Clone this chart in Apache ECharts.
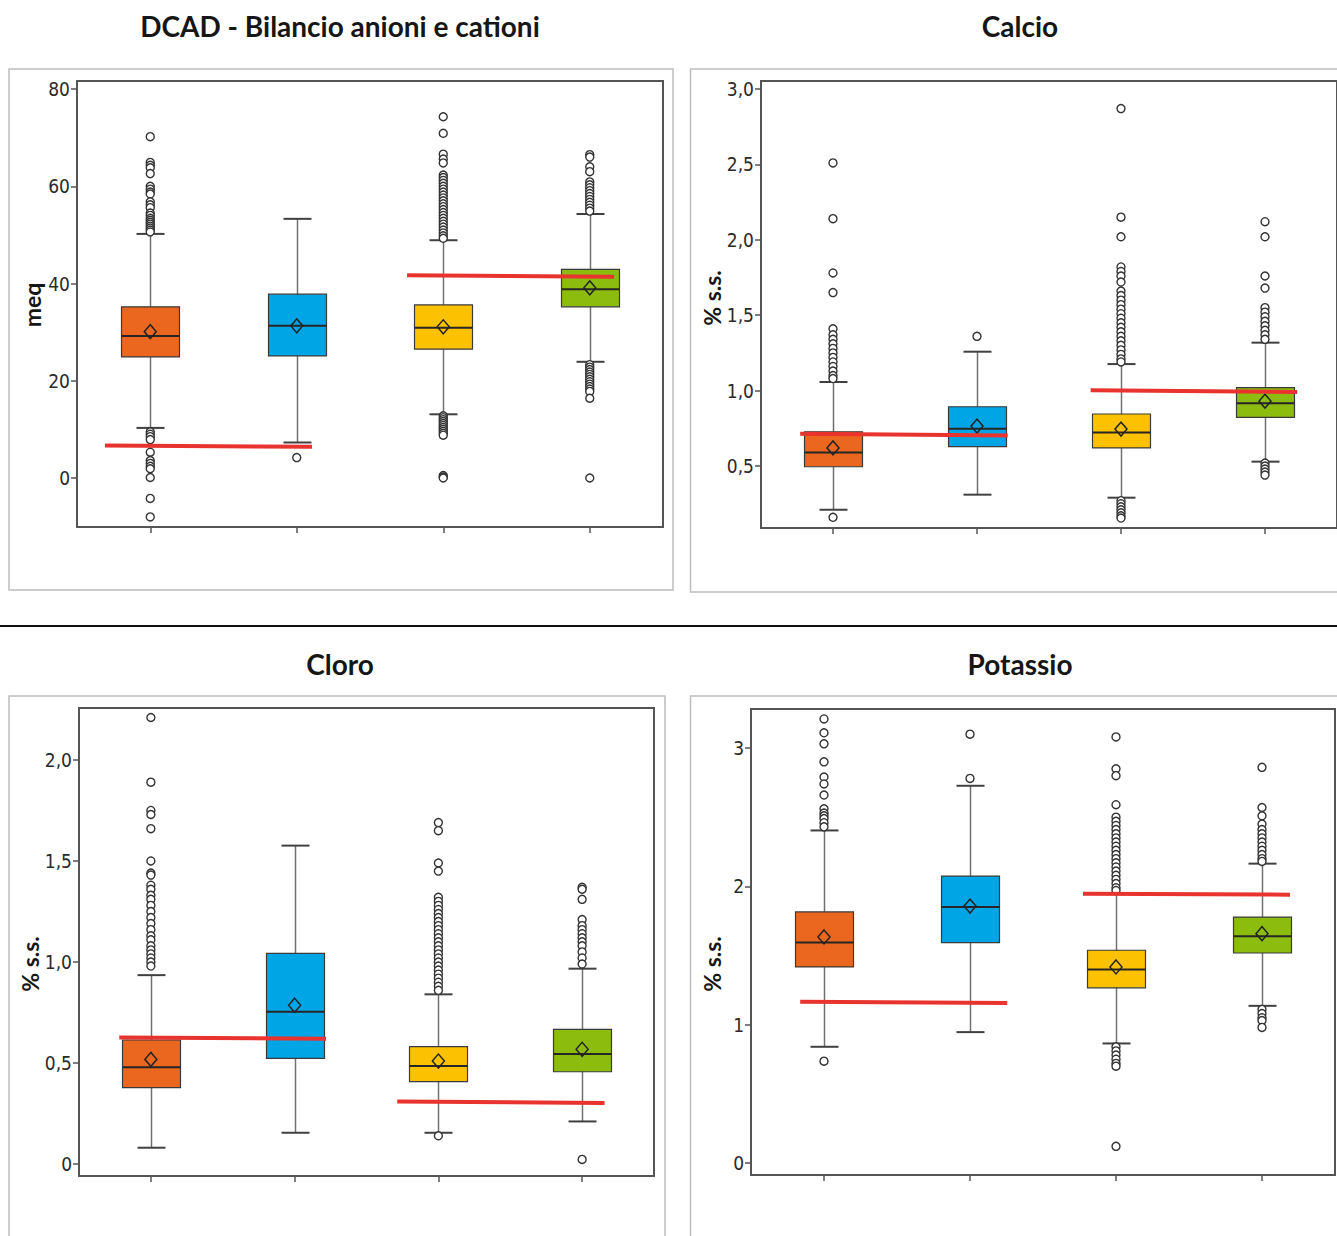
<!DOCTYPE html>
<html><head><meta charset="utf-8">
<script src="https://cdn.jsdelivr.net/npm/echarts@6/dist/echarts.min.js"></script>
<style>html,body{margin:0;padding:0;background:#fff}#c{width:1337px;height:1236px}</style>
</head><body><div id="c"></div>
<script>
// ---------- DATA ----------
const categories = ['Gruppo 1', 'Gruppo 2', 'Gruppo 3', 'Gruppo 4'];
const boxColors = ['#eb661e', '#00a5e6', '#fcc100', '#8cbd0e'];
const panelTitles = ['DCAD - Bilancio anioni e cationi', 'Calcio', 'Cloro', 'Potassio'];
const axisNames = ['meq', '% s.s.', '% s.s.', '% s.s.'];

// box rows: [lower whisker, Q1, median, Q3, upper whisker]
const dcadBox = [
  [10.3, 24.9, 29.2, 35.2, 50.2],
  [7.3, 25.1, 31.3, 37.8, 53.3],
  [13.1, 26.5, 30.9, 35.6, 48.9],
  [23.9, 35.2, 38.8, 42.9, 54.3]
];
const dcadMean = [30.1, 31.3, 31.1, 39.1];
const dcadOut = [
  [70.2, 64.9, 64.3, 63.8, 62.6, 60.0, 59.4, 58.8, 58.4, 56.8, 56.2, 55.6, 54.5, 54.0, 53.4, 53.0, 52.6, 52.2, 51.8, 51.4, 51.0, 50.6, 9.5, 9.0, 8.5, 7.9, 5.3, 3.6, 3.0, 2.4, 1.9, 0.1, -4.2, -8.0],
  [4.2],
  [74.3, 70.9, 66.6, 65.6, 64.8, 62.3, 61.8, 61.2, 60.6, 60.0, 59.4, 58.8, 58.2, 57.6, 57.0, 56.4, 55.8, 55.2, 54.6, 54.0, 53.4, 52.8, 52.2, 51.6, 51.0, 50.4, 49.8, 49.3, 12.8, 12.4, 12.0, 11.6, 11.2, 10.8, 10.4, 10.0, 9.6, 9.2, 8.8, 0.5, 0.2, 0.0],
  [66.5, 66.0, 64.0, 63.0, 60.9, 60.3, 59.7, 59.1, 58.5, 57.9, 57.3, 56.7, 56.1, 55.5, 54.9, 23.3, 22.8, 22.3, 21.8, 21.3, 20.8, 20.3, 19.8, 19.3, 18.8, 18.3, 17.8, 16.4, 0.0]
];
const dcadRef = [[[0.191, 6.7], [1.604, 6.4]], [[2.253, 41.7], [3.666, 41.4]]];
const dcadTicks = [0, 20, 40, 60, 80];
const dcadTickLabels = ['0', '20', '40', '60', '80'];

const calcioBox = [
  [0.21, 0.495, 0.59, 0.727, 1.057],
  [0.31, 0.628, 0.747, 0.893, 1.258],
  [0.29, 0.62, 0.723, 0.845, 1.176],
  [0.529, 0.823, 0.916, 1.02, 1.318]
];
const calcioMean = [0.62, 0.765, 0.745, 0.93];
const calcioOut = [
  [2.51, 2.14, 1.78, 1.65, 1.41, 1.37, 1.34, 1.31, 1.28, 1.25, 1.22, 1.19, 1.16, 1.13, 1.10, 1.08, 0.16],
  [1.36],
  [2.87, 2.15, 2.02, 1.82, 1.79, 1.76, 1.72, 1.66, 1.63, 1.60, 1.57, 1.54, 1.51, 1.48, 1.45, 1.42, 1.39, 1.36, 1.33, 1.30, 1.27, 1.24, 1.21, 1.19, 0.27, 0.25, 0.23, 0.21, 0.19, 0.17, 0.155],
  [2.12, 2.02, 1.76, 1.68, 1.55, 1.52, 1.49, 1.46, 1.43, 1.40, 1.37, 1.34, 0.52, 0.50, 0.48, 0.46, 0.44]
];
const calcioRef = [[[0.272, 0.714], [1.713, 0.703]], [[2.289, 1.002], [3.723, 0.991]]];
const calcioTicks = [0.5, 1, 1.5, 2, 2.5, 3];
const calcioTickLabels = ['0,5', '1,0', '1,5', '2,0', '2,5', '3,0'];

const cloroBox = [
  [0.081, 0.378, 0.479, 0.614, 0.935],
  [0.155, 0.523, 0.754, 1.043, 1.576],
  [0.155, 0.408, 0.485, 0.581, 0.84],
  [0.211, 0.457, 0.545, 0.667, 0.967]
];
const cloroMean = [0.518, 0.786, 0.51, 0.568];
const cloroOut = [
  [2.21, 1.89, 1.75, 1.73, 1.66, 1.50, 1.44, 1.43, 1.38, 1.36, 1.33, 1.31, 1.28, 1.25, 1.22, 1.19, 1.16, 1.13, 1.11, 1.08, 1.06, 1.04, 1.02, 1.00, 0.98],
  [],
  [1.69, 1.65, 1.49, 1.45, 1.32, 1.30, 1.28, 1.26, 1.24, 1.22, 1.20, 1.18, 1.16, 1.14, 1.12, 1.10, 1.08, 1.06, 1.04, 1.02, 1.00, 0.98, 0.96, 0.94, 0.92, 0.90, 0.88, 0.86, 0.14],
  [1.37, 1.36, 1.31, 1.21, 1.18, 1.16, 1.14, 1.12, 1.10, 1.08, 1.05, 1.02, 0.99, 0.023]
];
const cloroRef = [[[0.280, 0.627], [1.719, 0.620]], [[2.214, 0.310], [3.656, 0.302]]];
const cloroTicks = [0, 0.5, 1, 1.5, 2];
const cloroTickLabels = ['0', '0,5', '1,0', '1,5', '2,0'];

const potassioBox = [
  [0.84, 1.417, 1.593, 1.815, 2.404],
  [0.946, 1.593, 1.85, 2.074, 2.727],
  [0.864, 1.266, 1.398, 1.538, 1.95],
  [1.136, 1.518, 1.639, 1.778, 2.164]
];
const potassioMean = [1.634, 1.857, 1.417, 1.658];
const potassioOut = [
  [3.21, 3.11, 3.03, 2.90, 2.79, 2.74, 2.66, 2.56, 2.53, 2.51, 2.49, 2.46, 2.43, 0.736],
  [3.10, 2.78],
  [3.08, 2.85, 2.80, 2.59, 2.50, 2.47, 2.44, 2.41, 2.38, 2.35, 2.32, 2.29, 2.26, 2.23, 2.20, 2.17, 2.14, 2.11, 2.08, 2.05, 2.02, 1.99, 1.97, 0.84, 0.81, 0.78, 0.75, 0.72, 0.70, 0.12],
  [2.86, 2.57, 2.51, 2.45, 2.41, 2.38, 2.35, 2.32, 2.29, 2.26, 2.23, 2.20, 2.18, 1.11, 1.08, 1.05, 1.03, 0.98]
];
const potassioRef = [[[0.337, 1.166], [1.755, 1.157]], [[2.274, 1.947], [3.692, 1.940]]];
const potassioTicks = [0, 1, 2, 3];
const potassioTickLabels = ['0', '1', '2', '3'];

// ---------- LAYOUT ----------
const panels = [
  {box: dcadBox, mean: dcadMean, out: dcadOut, ref: dcadRef, ticks: dcadTicks, labels: dcadTickLabels,
   grid: {left: 77, top: 81, width: 586, height: 446}, min: -10.08, max: 81.65,
   title: [340, 26], name: [32, 305], outer: [9, 69, 664, 521]},
  {box: calcioBox, mean: calcioMean, out: calcioOut, ref: calcioRef, ticks: calcioTicks, labels: calcioTickLabels,
   grid: {left: 761, top: 81, width: 576, height: 447}, min: 0.089, max: 3.053,
   title: [1020, 26], name: [712, 298], outer: [690.5, 69, 660, 523]},
  {box: cloroBox, mean: cloroMean, out: cloroOut, ref: cloroRef, ticks: cloroTicks, labels: cloroTickLabels,
   grid: {left: 79, top: 708, width: 575, height: 468}, min: -0.059, max: 2.257,
   title: [340, 664], name: [30, 964], outer: [9, 696, 656, 560]},
  {box: potassioBox, mean: potassioMean, out: potassioOut, ref: potassioRef, ticks: potassioTicks, labels: potassioTickLabels,
   grid: {left: 751, top: 709, width: 584, height: 466}, min: -0.087, max: 3.282,
   title: [1020, 664], name: [712, 964], outer: [690.5, 696, 660, 560]}
];

const labelFont = "'Liberation Sans Narrow', 'DejaVu Sans Condensed', 'Liberation Sans', Arial, sans-serif";

function renderBox(params, api) {
  const x = api.value(0);
  const lo = api.coord([x, api.value(1)]);
  const q1 = api.coord([x, api.value(2)]);
  const md = api.coord([x, api.value(3)]);
  const q3 = api.coord([x, api.value(4)]);
  const hi = api.coord([x, api.value(5)]);
  const cx = Math.round(lo[0]) + 0.5;
  const bw = 58, cw = 28;
  const color = api.visual('color');
  return {type: 'group', children: [
    {type: 'line', shape: {x1: cx, y1: hi[1], x2: cx, y2: lo[1]}, style: {stroke: '#707070', lineWidth: 1.5}},
    {type: 'line', shape: {x1: cx - cw / 2, y1: hi[1], x2: cx + cw / 2, y2: hi[1]}, style: {stroke: '#404040', lineWidth: 2}},
    {type: 'line', shape: {x1: cx - cw / 2, y1: lo[1], x2: cx + cw / 2, y2: lo[1]}, style: {stroke: '#404040', lineWidth: 2}},
    {type: 'rect', shape: {x: cx - bw / 2, y: q3[1], width: bw, height: q1[1] - q3[1]},
     style: {fill: color, stroke: '#3a3a3a', lineWidth: 1.2}},
    {type: 'line', shape: {x1: cx - bw / 2, y1: md[1], x2: cx + bw / 2, y2: md[1]}, style: {stroke: '#262626', lineWidth: 2}}
  ]};
}

const grid = [], xAxis = [], yAxis = [], series = [], graphic = [];

panels.forEach((p, k) => {
  grid.push(Object.assign({show: true, borderColor: '#555', borderWidth: 2, backgroundColor: 'transparent'}, p.grid));
  xAxis.push({
    type: 'category', gridIndex: k, data: categories, position: 'bottom',
    axisLine: {show: false, onZero: false},
    axisTick: {show: true, alignWithLabel: true, length: 6, lineStyle: {color: '#555', width: 1.5}},
    axisLabel: {show: false}, splitLine: {show: false}
  });
  xAxis.push({type: 'value', gridIndex: k, min: 0, max: 4, show: false, axisLine: {onZero: false}});
  yAxis.push({
    type: 'value', gridIndex: k, min: p.min, max: p.max,
    axisLine: {show: false, onZero: false}, splitLine: {show: false},
    axisTick: {show: true, customValues: p.ticks, length: 6, lineStyle: {color: '#555', width: 1.5}},
    axisLabel: {
      show: true, customValues: p.ticks, margin: 7,
      fontFamily: labelFont, fontSize: 19, color: '#2a2a2a',
      formatter: (v) => {
        let idx = p.ticks.findIndex(t => Math.abs(t - v) < 1e-9);
        return idx >= 0 ? p.labels[idx] : '';
      }
    }
  });
  series.push({
    type: 'custom', xAxisIndex: 2 * k, yAxisIndex: k, renderItem: renderBox, z: 2,
    encode: {x: 0, y: [1, 2, 3, 4, 5]},
    data: p.box.map((b, i) => ({value: [i].concat(b), itemStyle: {color: boxColors[i]}}))
  });
  const outPts = [];
  p.out.forEach((arr, i) => arr.forEach(v => outPts.push([i, v])));
  series.push({
    type: 'scatter', xAxisIndex: 2 * k, yAxisIndex: k, z: 3, symbol: 'circle', symbolSize: 8,
    itemStyle: {color: '#ffffff', borderColor: '#333', borderWidth: 1.4, opacity: 1},
    data: outPts
  });
  series.push({
    type: 'scatter', xAxisIndex: 2 * k, yAxisIndex: k, z: 4, symbol: 'diamond', symbolSize: [12, 14],
    itemStyle: {color: 'rgba(0,0,0,0)', borderColor: '#222', borderWidth: 1.5, opacity: 1},
    data: p.mean.map((m, i) => [i, m])
  });
  p.ref.forEach(seg => {
    series.push({
      type: 'line', xAxisIndex: 2 * k + 1, yAxisIndex: k, z: 6, symbol: 'none', silent: true,
      lineStyle: {color: '#e8332e', width: 4}, data: seg
    });
  });
  graphic.push({type: 'rect', silent: true, z: -1,
    shape: {x: p.outer[0], y: p.outer[1], width: p.outer[2], height: p.outer[3]},
    style: {fill: 'none', stroke: '#bdbdbd', lineWidth: 1.5}});
  graphic.push({type: 'text', x: p.title[0], y: p.title[1], silent: true,
    style: {text: panelTitles[k], fontFamily: 'Lato', fontWeight: 'bold', fontSize: 28, fill: '#161616',
            align: 'center', verticalAlign: 'middle'}});
  graphic.push({type: 'text', x: p.name[0], y: p.name[1], rotation: Math.PI / 2, silent: true,
    style: {text: axisNames[k], fontFamily: 'Lato', fontWeight: 'bold', fontSize: 23, fill: '#161616',
            align: 'center', verticalAlign: 'middle'}});
});

graphic.push({type: 'line', silent: true, shape: {x1: 0, y1: 626, x2: 1337, y2: 626},
  style: {stroke: '#111', lineWidth: 2}});

const chart = echarts.init(document.getElementById('c'), null, {renderer: 'svg'});
chart.setOption({
  animation: false,
  backgroundColor: '#ffffff',
  grid, xAxis, yAxis, series, graphic
});
</script>
</body></html>
